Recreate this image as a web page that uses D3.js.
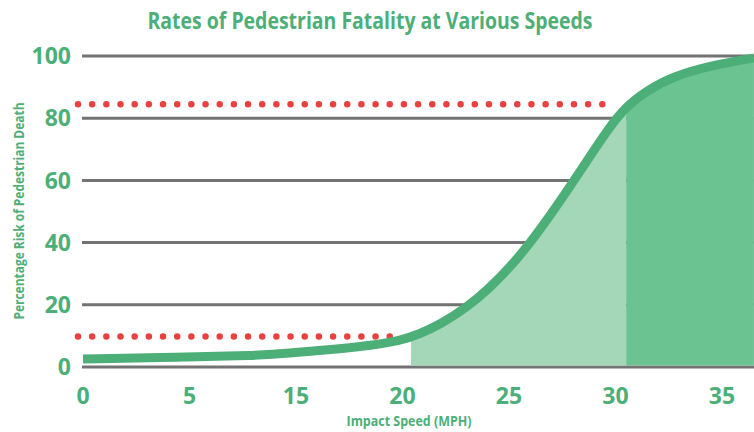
<!DOCTYPE html>
<html>
<head>
<meta charset="utf-8">
<script src="https://cdn.jsdelivr.net/npm/d3@7"></script>
<style>
  html, body { margin: 0; padding: 0; background: #fff; }
  svg { display: block; }
  text { font-family: "Open Sans", "Noto Sans", sans-serif; font-weight: 700; fill: #4caf78; }
</style>
</head>
<body>
<svg id="chart" width="754" height="432"></svg>
<script>
// tick labels as printed on the chart
const xTicks = [0, 5, 15, 20, 25, 30, 35];
const yTicks = [0, 20, 40, 60, 80, 100];

// fatality curve
const curveSpeed = [0, 4.5, 11.2, 14, 17.1, 18.5, 19.9, 20.8, 21.8, 23.0, 24.0, 25.1, 25.9, 26.9, 27.9, 28.8, 29.6, 30.4, 31.5, 32.7, 34.6, 36.5];
const curveRisk  = [2.6, 3.1, 3.7, 4.3, 5.9, 6.9, 8.5, 10.6, 13.8, 19.1, 24.8, 32.5, 39.1, 48.4, 58.4, 67.7, 75.9, 83.2, 89.0, 93.5, 97.1, 99.4];

// shaded speed bands
const zoneFrom = [20.4, 30.5];
const zoneTo   = [30.5, 37];

// dotted reference levels
const refSpeed = [20, 30];
const refRisk  = [9.8, 84.5];

const W = 754, H = 432;
const GREEN = '#4caf78', LIGHT = '#a3d7b8', DARK = '#6cc392', RED = '#e8413f', GRID = '#737373';

const svg = d3.select('#chart');

const x0 = 83, x1 = 722;
const step = (x1 - x0) / (xTicks.length - 1);
// ticks are evenly spaced on the printed axis
const x = d3.scaleLinear()
  .domain(xTicks)
  .range(xTicks.map((d, i) => x0 + i * step));
const y = d3.scaleLinear().domain([0, 100]).range([367, 56]);

const data = curveSpeed.map((s, i) => ({ s, r: curveRisk[i] }));

svg.append('defs').selectAll('clipPath')
  .data(zoneFrom)
  .join('clipPath')
  .attr('id', (d, i) => `zone${i}`)
  .append('rect')
  .attr('x', d => x(d))
  .attr('width', (d, i) => x(zoneTo[i]) - x(d))
  .attr('y', 0)
  .attr('height', H);

// title
svg.append('text')
  .attr('x', 370)
  .attr('y', 29)
  .attr('text-anchor', 'middle')
  .attr('font-size', 24)
  .attr('textLength', 445)
  .attr('lengthAdjust', 'spacingAndGlyphs')
  .text('Rates of Pedestrian Fatality at Various Speeds');

// gridlines
svg.append('g')
  .selectAll('line')
  .data(yTicks)
  .join('line')
  .attr('x1', 82)
  .attr('x2', W)
  .attr('y1', d => y(d))
  .attr('y2', d => y(d))
  .attr('stroke', GRID)
  .attr('stroke-width', 3);

// y tick labels
svg.append('g')
  .selectAll('text')
  .data(yTicks)
  .join('text')
  .attr('x', 71)
  .attr('y', d => y(d))
  .attr('dy', '0.36em')
  .attr('text-anchor', 'end')
  .attr('font-size', 23)
  .text(d => d);

// x tick labels
svg.append('g')
  .selectAll('text')
  .data(xTicks)
  .join('text')
  .attr('x', d => x(d))
  .attr('y', 404)
  .attr('text-anchor', 'middle')
  .attr('font-size', 23)
  .text(d => d);

// axis titles
svg.append('text')
  .attr('transform', 'translate(24,211) rotate(-90)')
  .attr('text-anchor', 'middle')
  .attr('font-size', 14)
  .attr('textLength', 217)
  .attr('lengthAdjust', 'spacingAndGlyphs')
  .text('Percentage Risk of Pedestrian Death');

svg.append('text')
  .attr('x', 409)
  .attr('y', 426)
  .attr('text-anchor', 'middle')
  .attr('font-size', 15)
  .attr('textLength', 125)
  .attr('lengthAdjust', 'spacingAndGlyphs')
  .text('Impact Speed (MPH)');

// shaded zones under the curve
const area = d3.area()
  .x(d => x(d.s))
  .y0(y(0) - 1.5)
  .y1(d => y(d.r))
  .curve(d3.curveBasis);

svg.append('g')
  .selectAll('path')
  .data(zoneFrom)
  .join('path')
  .attr('clip-path', (d, i) => `url(#zone${i})`)
  .attr('d', area(data))
  .attr('fill', (d, i) => i === 0 ? LIGHT : DARK);

// dotted reference lines
svg.append('g')
  .selectAll('line')
  .data(refSpeed)
  .join('line')
  .attr('x1', x(0) - 5)
  .attr('x2', d => x(d))
  .attr('y1', (d, i) => y(refRisk[i]))
  .attr('y2', (d, i) => y(refRisk[i]))
  .attr('stroke', RED)
  .attr('stroke-width', 6.5)
  .attr('stroke-linecap', 'round')
  .attr('stroke-dasharray', '0 14.17');

// the curve
const line = d3.line()
  .x(d => x(d.s))
  .y(d => y(d.r))
  .curve(d3.curveBasis);

svg.append('path')
  .attr('d', line(data))
  .attr('fill', 'none')
  .attr('stroke', GREEN)
  .attr('stroke-width', 9);
</script>
</body>
</html>
